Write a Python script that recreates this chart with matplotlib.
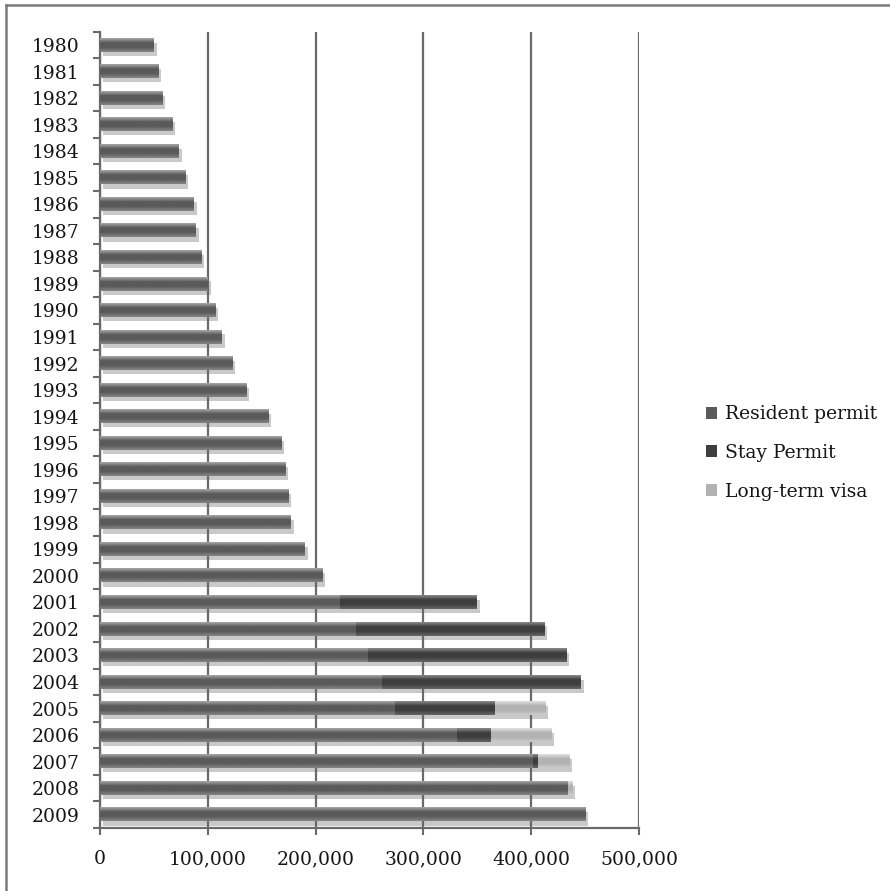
import matplotlib.pyplot as plt
import matplotlib.patheffects as pe
import numpy as np
from matplotlib.colors import LinearSegmentedColormap
from matplotlib.lines import Line2D
from matplotlib.patches import Patch

# Registered foreign residents by permit type (persons)
years = [str(y) for y in range(1980, 2010)]
resident = [50000, 54000, 58000, 67000, 73000, 79000, 87000, 89000, 94000, 100000,
            107000, 113000, 123000, 136000, 156000, 168000, 172000, 175000, 177000, 190000,
            206000, 222600, 237000, 248600, 262000, 274000, 331000, 402000, 434000, 450000]
stay = [0] * 21 + [127000, 175000, 184000, 184000, 92000, 32000, 4000, 0, 0]
longterm = [0] * 25 + [47000, 56000, 29000, 4000, 0]

labels = ['Resident permit', 'Stay Permit', 'Long-term visa']
# (top, middle, bottom) shades for the cylinder-like bars
shades = {
    'Resident permit': ('#a8a8a8', '#5a5a5a', '#858585'),
    'Stay Permit': ('#8c8c8c', '#3e3e3e', '#666666'),
    'Long-term visa': ('#e2e2e2', '#b2b2b2', '#cccccc'),
}

plt.rcParams['font.family'] = 'DejaVu Serif'
plt.rcParams['text.color'] = '#151515'
plt.rcParams['xtick.labelcolor'] = '#151515'
plt.rcParams['ytick.labelcolor'] = '#151515'

fig = plt.figure(figsize=(8.9, 8.91), dpi=100)
ax = fig.add_axes([0.1124, 0.0707, 0.6056, 0.8937])

y = np.arange(len(years))
left = np.zeros(len(years))
bar_h = 0.5
shadow = [pe.SimplePatchShadow(offset=(2, -3), shadow_rgbFace='#666666', alpha=0.35), pe.Normal()]

for name, vals in zip(labels, [resident, stay, longterm]):
    vals = np.array(vals, dtype=float)
    top, mid, bot = shades[name]
    cmap = LinearSegmentedColormap.from_list(name, [top, mid, mid, bot], N=64)
    grad = np.linspace(0, 1, 64).reshape(-1, 1)
    bars = ax.barh(y, vals, left=left, height=bar_h, color=mid, linewidth=0,
                   zorder=3, path_effects=shadow)
    for b in bars:
        if b.get_width() <= 0:
            continue
        x0, y0 = b.get_x(), b.get_y()
        ax.imshow(grad, cmap=cmap, aspect='auto', interpolation='bilinear',
                  extent=(x0, x0 + b.get_width(), y0 + b.get_height(), y0), zorder=4)
    left += vals

ax.set_xlim(0, 500000)
ax.set_ylim(len(years) - 0.5, -0.5)

ax.set_xticks(np.arange(0, 500001, 100000))
ax.set_xticklabels(['0', '100,000', '200,000', '300,000', '400,000', '500,000'])
ax.set_yticks(y)
ax.set_yticklabels(years)
ax.set_yticks(np.arange(-0.5, len(years), 1), minor=True)

grid_c = '#6a6a6a'
ax.grid(axis='x', color=grid_c, linewidth=1.6, zorder=1)
ax.set_axisbelow(True)
for s in ['top', 'right']:
    ax.spines[s].set_visible(False)
for s in ['left', 'bottom']:
    ax.spines[s].set_color(grid_c)
    ax.spines[s].set_linewidth(1.6)

ax.tick_params(axis='y', which='major', length=0, pad=15, labelsize=13.5)
ax.tick_params(axis='y', which='minor', length=5, width=1.5, color=grid_c)
ax.tick_params(axis='x', which='major', length=5, width=1.5, color=grid_c, pad=11, labelsize=13.5)

handles = [Patch(facecolor=shades[n][1], edgecolor='none', label=n) for n in labels]
fig.legend(handles=handles, loc='center left', bbox_to_anchor=(706 / 890, 1 - 453 / 891),
           frameon=False, fontsize=13.5, handlelength=0.6, handleheight=0.6,
           handletextpad=0.4, labelspacing=1.1, borderpad=0, borderaxespad=0)

# outer chart frame (top and left edges)
fig.add_artist(Line2D([6 / 890, 6 / 890], [0, 1 - 5 / 891], color='#7a7a7a', linewidth=1.8))
fig.add_artist(Line2D([6 / 890, 1], [1 - 5 / 891, 1 - 5 / 891], color='#7a7a7a', linewidth=1.8))

fig.savefig('out.png', dpi=100, facecolor='white')
